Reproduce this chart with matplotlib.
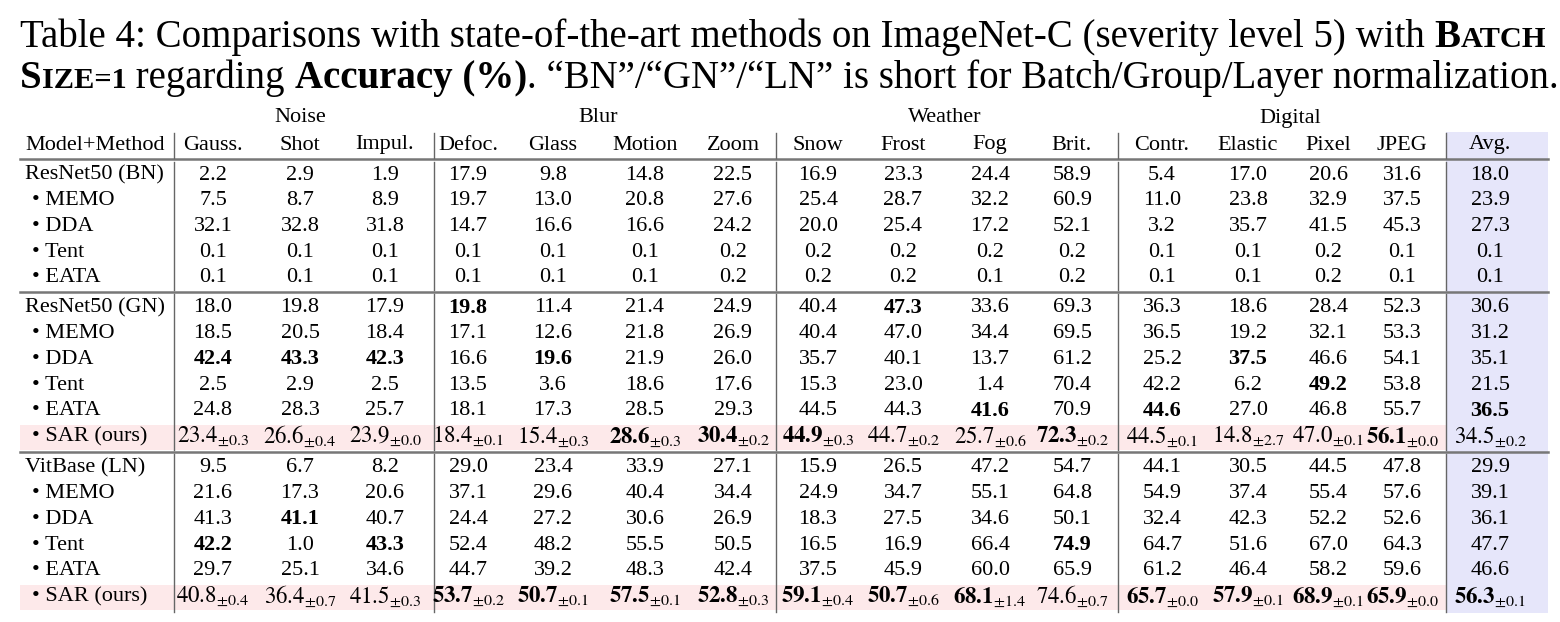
import matplotlib.pyplot as plt
from matplotlib.patches import Rectangle

plt.rcParams['mathtext.fontset'] = 'stix'
FONT = 'Liberation Serif'

groups = ["Noise", "Blur", "Weather", "Digital"]
columns = ["Gauss.", "Shot", "Impul.", "Defoc.", "Glass", "Motion", "Zoom",
           "Snow", "Frost", "Fog", "Brit.", "Contr.", "Elastic", "Pixel", "JPEG", "Avg."]

rn_bn_names = ["ResNet50 (BN)", "• MEMO", "• DDA", "• Tent", "• EATA"]
rn_bn = [
    [2.2, 2.9, 1.9, 17.9, 9.8, 14.8, 22.5, 16.9, 23.3, 24.4, 58.9, 5.4, 17.0, 20.6, 31.6, 18.0],
    [7.5, 8.7, 8.9, 19.7, 13.0, 20.8, 27.6, 25.4, 28.7, 32.2, 60.9, 11.0, 23.8, 32.9, 37.5, 23.9],
    [32.1, 32.8, 31.8, 14.7, 16.6, 16.6, 24.2, 20.0, 25.4, 17.2, 52.1, 3.2, 35.7, 41.5, 45.3, 27.3],
    [0.1, 0.1, 0.1, 0.1, 0.1, 0.1, 0.2, 0.2, 0.2, 0.2, 0.2, 0.1, 0.1, 0.2, 0.1, 0.1],
    [0.1, 0.1, 0.1, 0.1, 0.1, 0.1, 0.2, 0.2, 0.2, 0.1, 0.2, 0.1, 0.1, 0.2, 0.1, 0.1],
]
rn_gn_names = ["ResNet50 (GN)", "• MEMO", "• DDA", "• Tent", "• EATA", "• SAR (ours)"]
rn_gn = [
    [18.0, 19.8, 17.9, 19.8, 11.4, 21.4, 24.9, 40.4, 47.3, 33.6, 69.3, 36.3, 18.6, 28.4, 52.3, 30.6],
    [18.5, 20.5, 18.4, 17.1, 12.6, 21.8, 26.9, 40.4, 47.0, 34.4, 69.5, 36.5, 19.2, 32.1, 53.3, 31.2],
    [42.4, 43.3, 42.3, 16.6, 19.6, 21.9, 26.0, 35.7, 40.1, 13.7, 61.2, 25.2, 37.5, 46.6, 54.1, 35.1],
    [2.5, 2.9, 2.5, 13.5, 3.6, 18.6, 17.6, 15.3, 23.0, 1.4, 70.4, 42.2, 6.2, 49.2, 53.8, 21.5],
    [24.8, 28.3, 25.7, 18.1, 17.3, 28.5, 29.3, 44.5, 44.3, 41.6, 70.9, 44.6, 27.0, 46.8, 55.7, 36.5],
    [23.4, 26.6, 23.9, 18.4, 15.4, 28.6, 30.4, 44.9, 44.7, 25.7, 72.3, 44.5, 14.8, 47.0, 56.1, 34.5],
]
rn_gn_sar_std = [0.3, 0.4, 0.0, 0.1, 0.3, 0.3, 0.2, 0.3, 0.2, 0.6, 0.2, 0.1, 2.7, 0.1, 0.0, 0.2]
rn_gn_bold = [(0, 3), (0, 8), (2, 0), (2, 1), (2, 2), (2, 4), (2, 12), (3, 13), (4, 9),
              (4, 11), (4, 15), (5, 5), (5, 6), (5, 7), (5, 10), (5, 14)]

vit_names = ["VitBase (LN)", "• MEMO", "• DDA", "• Tent", "• EATA", "• SAR (ours)"]
vit = [
    [9.5, 6.7, 8.2, 29.0, 23.4, 33.9, 27.1, 15.9, 26.5, 47.2, 54.7, 44.1, 30.5, 44.5, 47.8, 29.9],
    [21.6, 17.3, 20.6, 37.1, 29.6, 40.4, 34.4, 24.9, 34.7, 55.1, 64.8, 54.9, 37.4, 55.4, 57.6, 39.1],
    [41.3, 41.1, 40.7, 24.4, 27.2, 30.6, 26.9, 18.3, 27.5, 34.6, 50.1, 32.4, 42.3, 52.2, 52.6, 36.1],
    [42.2, 1.0, 43.3, 52.4, 48.2, 55.5, 50.5, 16.5, 16.9, 66.4, 74.9, 64.7, 51.6, 67.0, 64.3, 47.7],
    [29.7, 25.1, 34.6, 44.7, 39.2, 48.3, 42.4, 37.5, 45.9, 60.0, 65.9, 61.2, 46.4, 58.2, 59.6, 46.6],
    [40.8, 36.4, 41.5, 53.7, 50.7, 57.5, 52.8, 59.1, 50.7, 68.1, 74.6, 65.7, 57.9, 68.9, 65.9, 56.3],
]
vit_sar_std = [0.4, 0.7, 0.3, 0.2, 0.1, 0.1, 0.3, 0.4, 0.6, 1.4, 0.7, 0.0, 0.1, 0.1, 0.0, 0.1]
vit_bold = [(2, 1), (3, 0), (3, 2), (3, 10)] + [(5, c) for c in (3, 4, 5, 6, 7, 8, 9, 11, 12, 13, 14, 15)]

W, H = 1560, 622
fig = plt.figure(figsize=(W / 100, H / 100), dpi=100)
ax = fig.add_axes([0, 0, 1, 1])
ax.set_xlim(0, W)
ax.set_ylim(H, 0)
ax.axis('off')

col_x = [213, 300, 385, 468, 553, 645, 733, 818, 903, 990, 1072, 1162, 1248, 1328, 1402, 1490]
vlines = [174, 434, 776, 1118, 1446]
group_x = [300, 598, 945, 1290]
FS = 16


def put(x, y, s, bold=False, ha='center', size=FS):
    ax.text(x, y, s, ha=ha, va='center', fontsize=size, family=FONT,
            fontweight='bold' if bold else 'normal')


# title, drawn piece by piece so small caps can be faked
renderer = fig.canvas.get_renderer()


def line_pieces(y, pieces, x0=20):
    x = x0
    for s, size, bold in pieces:
        t = ax.text(x, y, s, ha='left', va='baseline', fontsize=size, family=FONT,
                    fontweight='bold' if bold else 'normal')
        bb = t.get_window_extent(renderer)
        x += bb.width


TS = 28
line_pieces(47, [("Table 4: Comparisons with state-of-the-art methods on ImageNet-C (severity level 5) with ", TS, False),
                 ("B", TS, True), ("ATCH", TS * 0.78, True)])
line_pieces(88, [("S", TS, True), ("IZE=1", TS * 0.78, True), (" regarding ", TS, False),
                 ("Accuracy (%)", TS, True),
                 (". \u201cBN\u201d/\u201cGN\u201d/\u201cLN\u201d is short for Batch/Group/Layer normalization.", TS, False)])

# shading
ax.add_patch(Rectangle((1446, 132), 102, 481, color='#e6e6fa', zorder=0, lw=0))
for y in (437, 597):
    ax.add_patch(Rectangle((20, y - 12.5), 1426, 25, color='#fde9ea', zorder=0, lw=0))

# headers
for g, gx in zip(groups, group_x):
    put(gx, 118, g)
put(25, 145, "Model+Method", ha='left')
for c, cx in zip(columns, col_x):
    put(cx, 145, c)

# rules
for y, lw in ((159, 1.8), (292, 1.8), (452, 1.8)):
    ax.plot([20, 1548], [y, y], color='#777777', lw=lw)
for vx in vlines:
    for y0, y1 in ((133, 158), (162, 290), (294, 450), (454, 612)):
        ax.plot([vx, vx], [y0, y1], color='#666666', lw=1.0)


def block(names, data, y0, bold=(), std=None):
    for r, (name, row) in enumerate(zip(names, data)):
        y = y0 + r * 25.7
        put(25 if r == 0 else 32, y, name, ha='left')
        for c, v in enumerate(row):
            b = (r, c) in bold
            if std is not None and r == len(data) - 1:
                main = r"\mathbf{%.1f}" % v if b else r"%.1f" % v
                s = r"$%s_{\pm%.1f}$" % (main, std[c])
                ax.text(col_x[c], y, s, ha='center', va='center', fontsize=FS + 0.5)
            else:
                put(col_x[c], y, "%.1f" % v, bold=b)


block(rn_bn_names, rn_bn, 175)
block(rn_gn_names, rn_gn, 308, rn_gn_bold, rn_gn_sar_std)
block(vit_names, vit, 468, vit_bold, vit_sar_std)

fig.savefig("out.png", dpi=100)
